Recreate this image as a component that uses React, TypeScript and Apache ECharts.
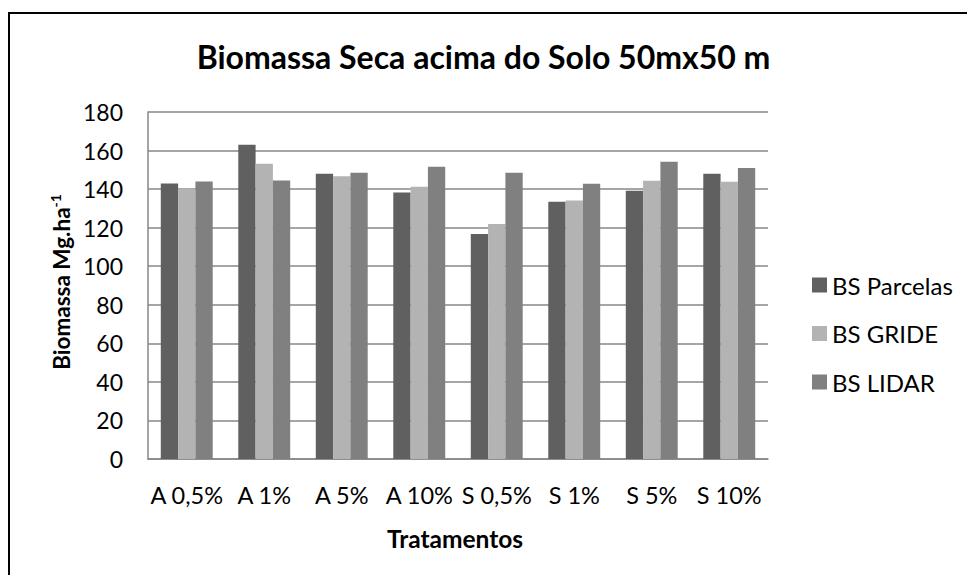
import React, { useEffect, useRef } from "react";
import * as echarts from "echarts";

const categories = ["A 0,5%", "A 1%", "A 5%", "A 10%", "S 0,5%", "S 1%", "S 5%", "S 10%"];
const bsParcelas = [142.9, 163.0, 148.0, 138.2, 116.7, 133.4, 139.1, 148.0];
const bsGride = [140.2, 153.1, 146.7, 141.2, 121.9, 134.1, 144.3, 143.8];
const bsLidar = [144.0, 144.5, 148.5, 151.6, 148.5, 142.8, 154.2, 151.0];
const seriesNames = ["BS Parcelas", "BS GRIDE", "BS LIDAR"];
const yTicks = { min: 0, max: 180, interval: 20 };

const FONT = "Lato, 'Open Sans', sans-serif";

export default function App() {
  const ref = useRef<HTMLDivElement>(null);
  useEffect(() => {
    if (!ref.current) return;
    const chart = echarts.init(ref.current, undefined, { renderer: "svg" });
    const colors = ["#606060", "#b3b3b3", "#808080"];
    const data = [bsParcelas, bsGride, bsLidar];
    chart.setOption({
      animation: false,
      backgroundColor: "#ffffff",
      textStyle: { fontFamily: FONT },
      title: {
        text: "Biomassa Seca acima do Solo 50mx50 m",
        left: "center",
        top: 40,
        padding: 0,
        textStyle: { fontFamily: FONT, fontSize: 32, fontWeight: "bold", color: "#000" },
      },
      legend: {
        orient: "vertical",
        left: 812,
        top: 273,
        padding: 0,
        itemWidth: 15,
        itemHeight: 15,
        itemGap: 24.5,
        icon: "rect",
        textStyle: { fontFamily: FONT, fontSize: 24, color: "#000" },
        data: seriesNames,
      },
      grid: { left: 148, top: 112, width: 620, height: 347, containLabel: false },
      xAxis: {
        type: "category",
        data: categories,
        axisLine: { show: true, lineStyle: { color: "#878787", width: 1.5 } },
        axisTick: { show: false },
        axisLabel: { margin: 24, fontFamily: FONT, fontSize: 23.5, color: "#000", interval: 0 },
      },
      yAxis: {
        type: "value",
        min: yTicks.min,
        max: yTicks.max,
        interval: yTicks.interval,
        axisLine: { show: true, lineStyle: { color: "#878787", width: 1.5 } },
        axisTick: { show: false },
        axisLabel: { margin: 25, fontFamily: FONT, fontSize: 23, color: "#000" },
        splitLine: { show: true, lineStyle: { color: "#878787", width: 1.5 } },
      },
      series: seriesNames.map((name, i) => ({
        name,
        type: "bar",
        data: data[i],
        barGap: "0%",
        barCategoryGap: "33%",
        itemStyle: { color: colors[i] },
      })),
      graphic: [
        {
          type: "rect",
          shape: { x: 9, y: 13, width: 2000, height: 2000 },
          style: { fill: "none", stroke: "#000", lineWidth: 2 },
          silent: true,
        },
        {
          type: "text",
          x: 455,
          y: 538,
          style: {
            text: "Tratamentos",
            fontFamily: FONT,
            fontSize: 24.5,
            fontWeight: "bold",
            fill: "#000",
            align: "center",
            verticalAlign: "middle",
          },
        },
        {
          type: "text",
          x: 61,
          y: 282,
          rotation: Math.PI / 2,
          style: {
            text: "{a|Biomassa Mg.ha}{s|-1}",
            align: "center",
            verticalAlign: "middle",
            rich: {
              a: { fontFamily: FONT, fontSize: 22.5, fontWeight: "bold", fill: "#000", color: "#000", lineHeight: 26 },
              s: { fontFamily: FONT, fontSize: 14, fontWeight: "bold", fill: "#000", color: "#000", verticalAlign: "top", lineHeight: 14 },
            },
          },
        },
      ],
    });
    return () => chart.dispose();
  }, []);
  return (
    <div
      ref={ref}
      style={{ position: "absolute", left: 0, top: 0, width: 967, height: 575 }}
    />
  );
}
